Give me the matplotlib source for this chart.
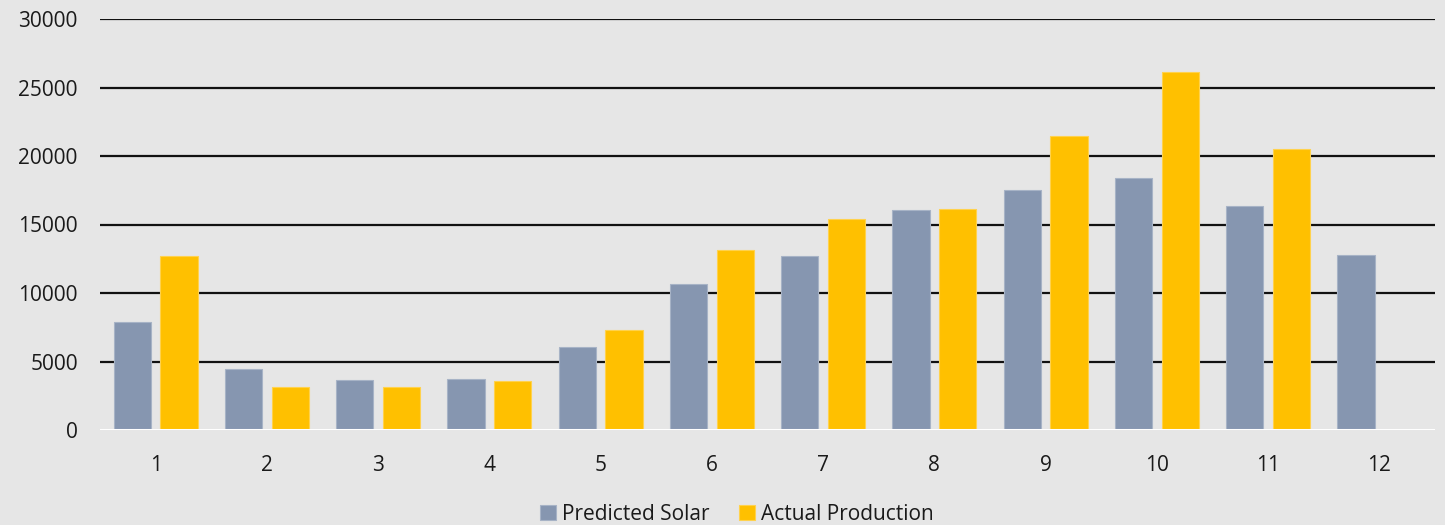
import matplotlib
matplotlib.use("Agg")
import matplotlib.pyplot as plt
import numpy as np

months = ["1", "2", "3", "4", "5", "6", "7", "8", "9", "10", "11", "12"]
predicted_solar = [7870, 4480, 3655, 3750, 6070, 10670, 12670, 16050, 17490, 18420, 16370, 12740]
actual_production = [12690, 3115, 3115, 3600, 7280, 13160, 15370, 16100, 21460, 26120, 20490, np.nan]
y_ticks = [0, 5000, 10000, 15000, 20000, 25000, 30000]

plt.rcParams['font.family'] = ['Open Sans', 'DejaVu Sans']

bg = '#e6e6e6'
c_pred = '#8696b0'
c_act = '#ffc000'

fig = plt.figure(figsize=(14.45, 5.25), dpi=100, facecolor=bg)
ax = fig.add_axes([100/1445, 95/525, 1335/1445, 411/525], facecolor=bg)

x = np.arange(len(months))
w = 0.335
off = 0.21
ax.bar(x - off, predicted_solar, width=w, color=c_pred, edgecolor='#a7b3c6', linewidth=0.8, zorder=3, label='Predicted Solar')
ax.bar(x + off, actual_production, width=w, color=c_act, edgecolor='#ffd24d', linewidth=0.8, zorder=3, label='Actual Production')

ax.set_xlim(-0.5, len(months) - 0.5)
ax.set_ylim(0, 30000)
ax.set_yticks(y_ticks)
ax.set_yticklabels([str(v) for v in y_ticks])
ax.set_xticks(x)
ax.set_xticklabels(months)

for v in y_ticks[1:]:
    ax.axhline(v, color='#111111', linewidth=1.6, zorder=1)
ax.axhline(0, color='white', linewidth=2.2, zorder=4)

for s in ax.spines.values():
    s.set_visible(False)
ax.tick_params(axis='both', length=0, labelsize=15, colors='#1a1a1a')
ax.tick_params(axis='y', pad=16)
ax.tick_params(axis='x', pad=18)

leg = fig.legend(loc='lower center', bbox_to_anchor=(0.51, -0.035), ncol=2, frameon=False,
                 fontsize=15, handlelength=0.75, handleheight=0.75, handletextpad=0.3,
                 columnspacing=1.4)
for t in leg.get_texts():
    t.set_color('#1a1a1a')

fig.savefig('out.png', dpi=100, facecolor=bg)
